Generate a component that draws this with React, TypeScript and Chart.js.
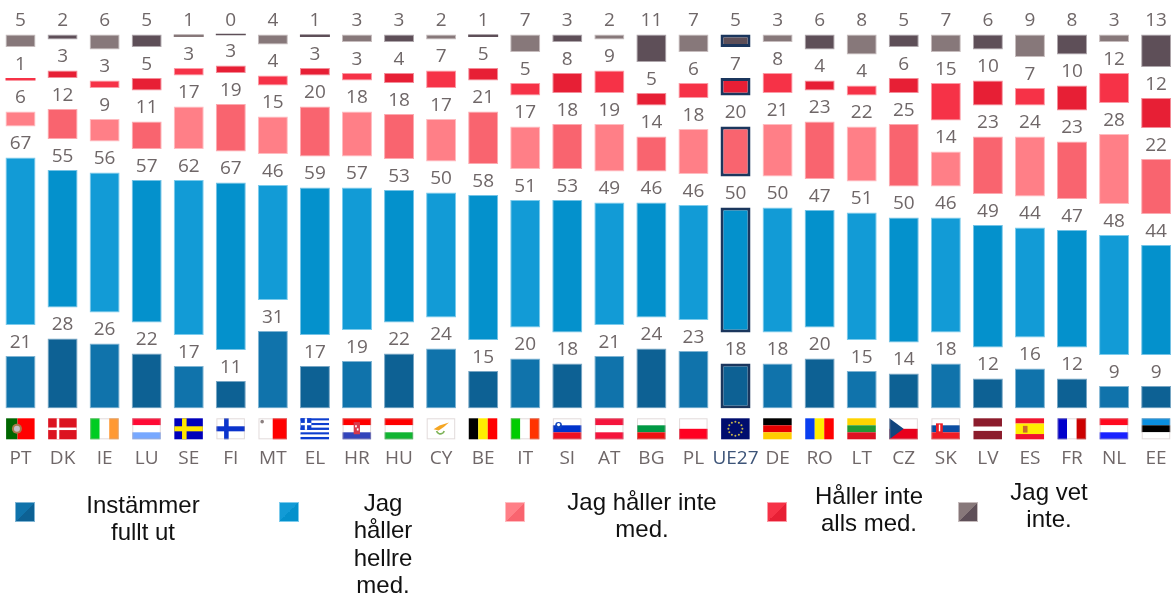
import React, { useEffect, useRef } from "react";
import { Chart, registerables } from "chart.js";

Chart.register(...registerables);

const countries = ["PT","DK","IE","LU","SE","FI","MT","EL","HR","HU","CY","BE","IT","SI","AT","BG","PL","UE27","DE","RO","LT","CZ","SK","LV","ES","FR","NL","EE"];
const fullyAgree = [21,28,26,22,17,11,31,17,19,22,24,15,20,18,21,24,23,18,18,20,15,14,18,12,16,12,9,9];
const tendAgree = [67,55,56,57,62,67,46,59,57,53,50,58,51,53,49,46,46,50,50,47,51,50,46,49,44,47,48,44];
const tendDisagree = [6,12,9,11,17,19,15,20,18,18,17,21,17,18,19,14,18,20,21,23,22,25,14,23,24,23,28,22];
const fullyDisagree = [1,3,3,5,3,3,4,3,3,4,7,5,5,8,9,5,6,7,8,4,4,6,15,10,7,10,12,12];
const dontKnow = [5,2,6,5,1,0,4,1,3,3,2,1,7,3,2,11,7,5,3,6,8,5,7,6,9,8,3,13];

const seriesNames = ["Instämmer fullt ut", "Jag håller hellre med.", "Jag håller inte med.", "Håller inte alls med.", "Jag vet inte."];
const seriesValues = [fullyAgree, tendAgree, tendDisagree, fullyDisagree, dontKnow];
const lightShades = ["#1073ab", "#129bd6", "#ff7f87", "#f63247", "#87787a"];
const darkShades = ["#0d6194", "#0491cc", "#f9646f", "#e71f35", "#5e4f58"];
const edgeLight = ["#7fb4d3", "#7ccbec", "#ffbcc0", "#fb9aa5", "#c6bcbd"];
const edgeDark = ["#78a6c4", "#74c3e6", "#fcaab0", "#f38c98", "#aea6ab"];
const HIGHLIGHT = "UE27";
const NAVY = "#1b365d";
const GREY = "#6f6768";
const GAP_UNITS = 12.4;
const whiteEdgedFlags = ["IE","FI","MT","CY","SI","BG","PL","CZ","SK","FR","EE","IT","LU","AT","HU","HR","NL"];

type Band = [string, number];
const hBands: Record<string, Band[]> = {
  LU: [["#ff0a35",1],["#ffffff",1],["#77a8ff",1]],
  HR: [["#ff0000",1],["#ffffff",1],["#3344bb",1]],
  HU: [["#ff0000",1],["#ffffff",1],["#11b533",1]],
  SI: [["#ffffff",1],["#0033cc",1],["#ee1122",1]],
  AT: [["#f5143c",1],["#ffffff",1],["#f5143c",1]],
  BG: [["#ffffff",1],["#009944",1],["#ee1111",1]],
  PL: [["#ffffff",1],["#ff0022",1]],
  DE: [["#000000",1],["#e60000",1],["#ffcc00",1]],
  LT: [["#ffd400",1],["#229933",1],["#dd1122",1]],
  CZ: [["#ffffff",1],["#e8001c",1]],
  SK: [["#ffffff",1],["#0b4ea2",1],["#ee1c25",1]],
  LV: [["#8c1c2c",2],["#ffffff",1],["#8c1c2c",2]],
  ES: [["#f0142d",1],["#ffee00",2],["#f0142d",1]],
  NL: [["#ff0a20",1],["#ffffff",1],["#1a22ff",1]],
  EE: [["#0a8fe0",1],["#000000",1],["#ffffff",1]],
};
const vBands: Record<string, Band[]> = {
  PT: [["#006600",2],["#ff0000",3]],
  IE: [["#00cc22",1],["#ffffff",1],["#ff9933",1]],
  MT: [["#ffffff",1],["#ff0000",1]],
  BE: [["#000000",1],["#ffee00",1],["#ff0000",1]],
  IT: [["#00cc00",1],["#ffffff",1],["#ff3300",1]],
  RO: [["#0a3ff0",1],["#ffee00",1],["#ff0000",1]],
  FR: [["#0000cc",1],["#ffffff",1],["#cc0000",1]],
};
const crosses: Record<string, string[]> = {
  DK: ["#dc1420", "#ffffff"],
  SE: ["#0000bb", "#ffe600"],
  FI: ["#ffffff", "#0a33cc"],
};

function drawFlag(c: CanvasRenderingContext2D, code: string, x: number, y: number, w: number, h: number) {
  const fillBands = (bands: Band[], vertical: boolean) => {
    const total = bands.reduce((s, b) => s + b[1], 0);
    let pos = 0;
    for (const [color, n] of bands) {
      c.fillStyle = color;
      if (vertical) c.fillRect(x + (pos / total) * w, y, (n / total) * w, h);
      else c.fillRect(x, y + (pos / total) * h, w, (n / total) * h);
      pos += n;
    }
  };
  const dot = (dx: number, dy: number, r: number, color: string) => {
    c.fillStyle = color;
    c.beginPath();
    c.arc(x + dx * w, y + dy * h, r, 0, Math.PI * 2);
    c.fill();
  };
  if (hBands[code]) fillBands(hBands[code], false);
  if (vBands[code]) fillBands(vBands[code], true);
  if (crosses[code]) {
    const [bg, fg] = crosses[code];
    const thin = code === "DK";
    c.fillStyle = bg;
    c.fillRect(x, y, w, h);
    c.fillStyle = fg;
    c.fillRect(x + w * (thin ? 0.3 : 0.27), y, w * (thin ? 0.09 : 0.16), h);
    c.fillRect(x, y + h * (thin ? 0.44 : 0.38), w, h * (thin ? 0.12 : 0.24));
  }
  if (code === "PT") {
    dot(0.38, 0.5, 5, "#a9784a");
    dot(0.38, 0.5, 3, "#c4c0c8");
  }
  if (code === "MT") dot(0.13, 0.16, 1.8, "#8b8080");
  if (code === "EL") {
    for (let i = 0; i < 9; i++) {
      c.fillStyle = i % 2 ? "#ffffff" : "#0d3ecf";
      c.fillRect(x, y + (i / 9) * h, w, h / 9);
    }
    c.fillStyle = "#0d3ecf";
    c.fillRect(x, y, w * 0.38, h * 0.55);
    c.fillStyle = "#ffffff";
    c.fillRect(x + w * 0.15, y, w * 0.08, h * 0.55);
    c.fillRect(x, y + h * 0.22, w * 0.38, h * 0.11);
  }
  if (code === "HR") {
    c.fillStyle = "#d8394a";
    c.fillRect(x + w * 0.39, y + h * 0.18, w * 0.22, h * 0.58);
    c.fillStyle = "#ffffff";
    c.fillRect(x + w * 0.44, y + h * 0.33, w * 0.06, h * 0.1);
    c.fillRect(x + w * 0.5, y + h * 0.48, w * 0.06, h * 0.1);
  }
  if (code === "CY") {
    c.fillStyle = "#ffffff";
    c.fillRect(x, y, w, h);
    c.fillStyle = "#f5a623";
    c.beginPath();
    c.moveTo(x + w * 0.24, y + h * 0.52);
    c.lineTo(x + w * 0.45, y + h * 0.34);
    c.lineTo(x + w * 0.78, y + h * 0.2);
    c.lineTo(x + w * 0.6, y + h * 0.42);
    c.lineTo(x + w * 0.42, y + h * 0.58);
    c.closePath();
    c.fill();
    c.strokeStyle = "#7fb45a";
    c.lineWidth = 1.6;
    c.beginPath();
    c.arc(x + w * 0.48, y + h * 0.55, w * 0.14, 0.3, Math.PI - 0.3);
    c.stroke();
  }
  if (code === "SI") {
    dot(0.2, 0.34, 3.4, "#1144bb");
    dot(0.2, 0.3, 1.6, "#ffffff");
  }
  if (code === "UE27") {
    c.fillStyle = "#000d6e";
    c.fillRect(x, y, w, h);
    for (let i = 0; i < 12; i++) {
      const a = (i / 12) * Math.PI * 2;
      c.fillStyle = "#c9b84a";
      c.beginPath();
      c.arc(x + w / 2 + Math.cos(a) * 7, y + h / 2 + Math.sin(a) * 7, 1, 0, Math.PI * 2);
      c.fill();
    }
  }
  if (code === "CZ") {
    c.fillStyle = "#11457e";
    c.beginPath();
    c.moveTo(x, y);
    c.lineTo(x + w * 0.5, y + h / 2);
    c.lineTo(x, y + h);
    c.closePath();
    c.fill();
  }
  if (code === "SK") {
    c.fillStyle = "#ee1c25";
    c.fillRect(x + w * 0.16, y + h * 0.24, w * 0.24, h * 0.48);
    c.fillStyle = "#ffffff";
    c.fillRect(x + w * 0.26, y + h * 0.3, w * 0.05, h * 0.32);
  }
  if (code === "ES") {
    c.fillStyle = "#c96a2c";
    c.fillRect(x + w * 0.26, y + h * 0.36, w * 0.16, h * 0.32);
  }
  if (whiteEdgedFlags.includes(code)) {
    c.strokeStyle = "rgba(190,175,175,0.45)";
    c.lineWidth = 1;
    c.strokeRect(x + 0.5, y + 0.5, w - 1, h - 1);
  }
}

const flagPlugin = {
  id: "flags",
  afterDraw(chart: any) {
    const c = chart.ctx;
    const xs = chart.scales.x;
    countries.forEach((code, i) => {
      drawFlag(c, code, xs.getPixelForValue(i) - 14.4, 418.3, 28.5, 21);
    });
  },
};

const valueLabelPlugin = {
  id: "valueLabels",
  afterDatasetsDraw(chart: any) {
    const c = chart.ctx;
    c.save();
    c.font = '19px "Open Sans"';
    c.fillStyle = GREY;
    c.textAlign = "center";
    c.textBaseline = "middle";
    chart.data.datasets.forEach((ds: any, di: number) => {
      if (ds.isSpacer) return;
      chart.getDatasetMeta(di).data.forEach((bar: any, i: number) => {
        c.fillText(String(ds.data[i]), bar.x, bar.y - 13.5);
      });
    });
    c.restore();
  },
};

const swatches = [
  { left: 15, top: 502 },
  { left: 279, top: 502 },
  { left: 505, top: 502 },
  { left: 767, top: 502 },
  { left: 958, top: 502 },
];
const legendBoxes = [
  { left: 73, top: 491, width: 140 },
  { left: 343, top: 489, width: 80 },
  { left: 552, top: 488, width: 180 },
  { left: 799, top: 482, width: 140 },
  { left: 989, top: 478, width: 120 },
];

export default function App() {
  const ref = useRef<HTMLCanvasElement>(null);
  useEffect(() => {
    const datasets: any[] = [];
    seriesValues.forEach((values, s) => {
      if (s > 0) {
        datasets.push({
          label: "gap" + s,
          isSpacer: true,
          data: countries.map(() => GAP_UNITS),
          backgroundColor: "rgba(0,0,0,0)",
          borderWidth: 0,
          stack: "eb",
        });
      }
      datasets.push({
        label: seriesNames[s],
        data: values,
        stack: "eb",
        minBarLength: s === 4 ? 1.5 : 0,
        backgroundColor: countries.map((_, i) => (i % 2 ? darkShades[s] : lightShades[s])),
        borderColor: countries.map((c, i) => (c === HIGHLIGHT ? NAVY : i % 2 ? edgeDark[s] : edgeLight[s])),
        borderWidth: countries.map((c, i) => (c === HIGHLIGHT ? 3 : values[i] <= 1 ? 0 : 1)),
        borderSkipped: false,
      });
    });
    const chart = new Chart(ref.current!, {
      type: "bar",
      data: { labels: countries, datasets },
      plugins: [flagPlugin, valueLabelPlugin],
      options: {
        animation: false,
        responsive: false,
        layout: { padding: { left: 0.47, right: 0.85, top: 0, bottom: 0 } },
        datasets: { bar: { categoryPercentage: 1, barPercentage: 0.713 } },
        plugins: { legend: { display: false }, tooltip: { enabled: false } },
        scales: {
          x: {
            stacked: true,
            grid: { display: false },
            border: { display: false },
            afterFit: (s: any) => {
              s.height = 594 - 408.5;
              s.paddingLeft = 0;
              s.paddingRight = 0;
            },
            ticks: {
              autoSkip: false,
              maxRotation: 0,
              minRotation: 0,
              padding: 31,
              font: { family: '"Open Sans"', size: 19 },
              color: (ctx: any) => (countries[ctx.index] === HIGHLIGHT ? "#3d5478" : GREY),
            },
          },
          y: { stacked: true, display: false, min: 0, max: 408.5 / 2.5 },
        },
      } as any,
    });
    return () => chart.destroy();
  }, []);

  return (
    <div style={{ position: "fixed", left: 0, top: 0, width: 1171, height: 594, overflow: "hidden", background: "#fff" }}>
      <canvas ref={ref} width={1179} height={594} style={{ position: "absolute", left: -1, top: 0, width: 1179, height: 594 }} />
      {seriesNames.map((name, s) => (
        <React.Fragment key={name}>
          <div
            style={{
              position: "absolute",
              left: swatches[s].left,
              top: swatches[s].top,
              width: 18,
              height: 18,
              border: `1px solid ${edgeLight[s]}`,
              background: `linear-gradient(135deg, ${lightShades[s]} 50%, ${darkShades[s]} 50%)`,
            }}
          />
          <div
            style={{
              position: "absolute",
              left: legendBoxes[s].left,
              top: legendBoxes[s].top,
              width: legendBoxes[s].width,
              textAlign: "center",
              font: '24px/27.4px "Liberation Sans"',
              color: "#111",
            }}
          >
            {name}
          </div>
        </React.Fragment>
      ))}
    </div>
  );
}
